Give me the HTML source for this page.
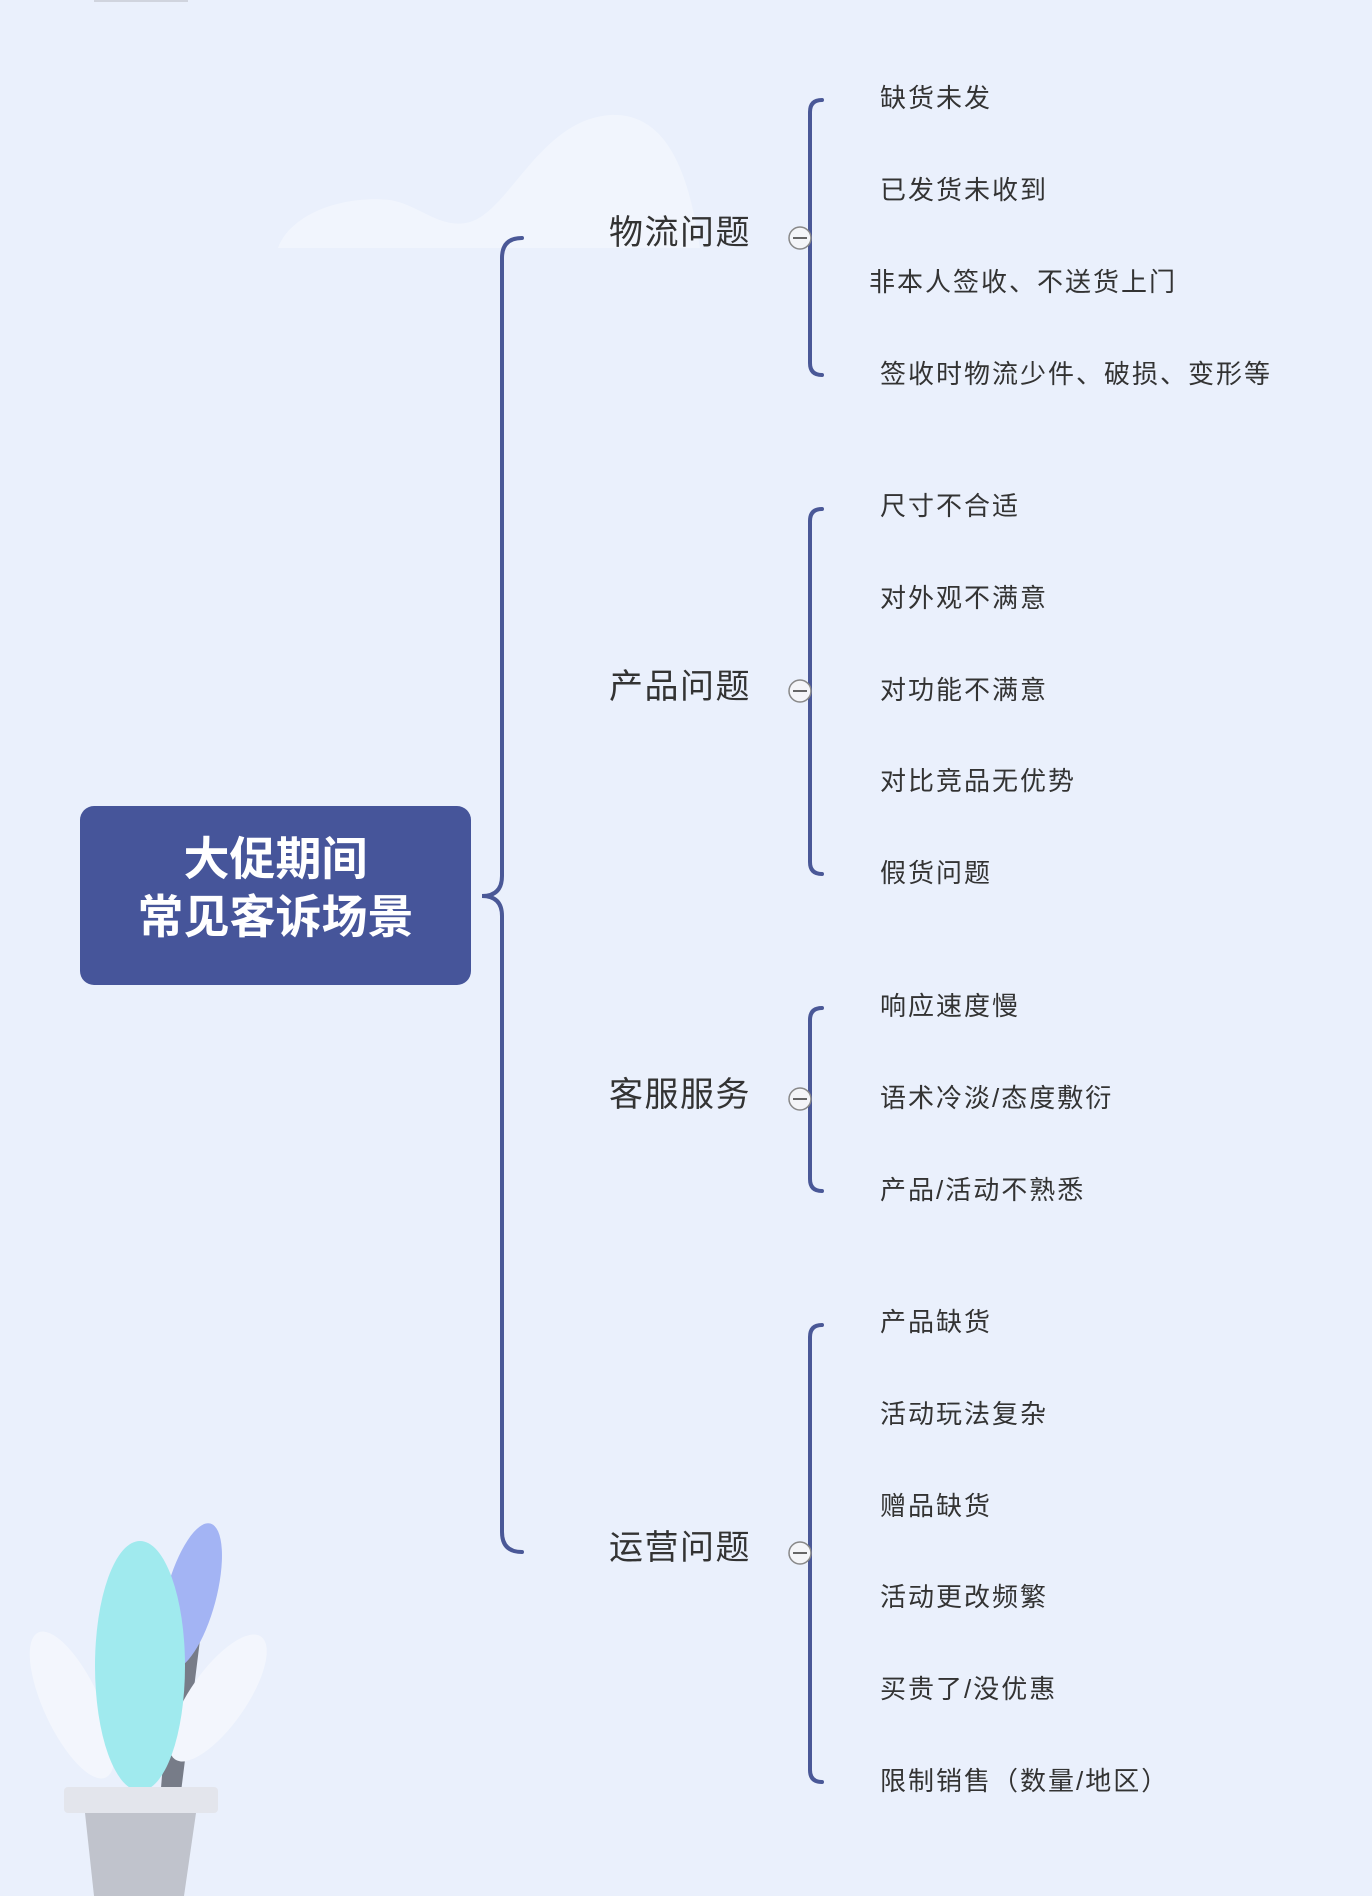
<!DOCTYPE html>
<html><head><meta charset="utf-8"><style>
body{margin:0;width:1372px;height:1896px;background:#eaf0fc;position:relative;overflow:hidden;font-family:"Liberation Sans","Noto Sans CJK SC",sans-serif;}
.t{position:absolute;color:#333;white-space:nowrap;line-height:1;}
.b{font-size:34px;left:609px;letter-spacing:1.5px;}
.l{font-size:26px;left:880px;letter-spacing:2px;}
#root{position:absolute;left:80px;top:806px;width:391px;height:179px;background:#46559a;border-radius:14px;color:#fff;font-weight:bold;font-size:46px;text-align:center;line-height:58px;box-sizing:border-box;padding-top:24px;}
</style></head><body>
<svg width="1372" height="1896" style="position:absolute;left:0;top:0">
<rect x="94" y="0" width="94" height="2" fill="#d0d4de"/>
<path d="M278 248 C290 215 340 195 390 200 C420 205 440 230 470 222 C510 210 540 120 610 115 C670 112 690 180 700 248 Z" fill="#f1f5fd"/>
<g fill="none" stroke="#4a5897" stroke-width="4" stroke-linecap="round">
<path d="M522 238 Q502 238 502 258 L502 876 Q502 896 482 896 Q502 896 502 916 L502 1532 Q502 1552 522 1552"/>
<path d="M822 100 Q810 100 810 112 L810 363 Q810 375 822 375"/>
<path d="M822 509 Q810 509 810 521 L810 862 Q810 874 822 874"/>
<path d="M822 1008 Q810 1008 810 1020 L810 1179 Q810 1191 822 1191"/>
<path d="M822 1325 Q810 1325 810 1337 L810 1770 Q810 1782 822 1782"/>
</g>
<g fill="#f4f5f8" stroke="#888" stroke-width="1.5">
<circle cx="800" cy="238" r="11"/><circle cx="800" cy="691" r="11"/><circle cx="800" cy="1099" r="11"/><circle cx="800" cy="1553" r="11"/>
</g>
<g stroke="#666" stroke-width="2"><line x1="793" y1="238" x2="807" y2="238"/><line x1="793" y1="691" x2="807" y2="691"/><line x1="793" y1="1099" x2="807" y2="1099"/><line x1="793" y1="1553" x2="807" y2="1553"/></g>
<ellipse cx="72" cy="1705" rx="28" ry="80" transform="rotate(-25 72 1705)" fill="#f3f6fd"/>
<path d="M180 1560 L205 1600 L180 1800 L160 1800 Z" fill="#777c88"/>
<ellipse cx="191" cy="1596" rx="25" ry="75" transform="rotate(15 191 1596)" fill="#a3b4f4"/>
<ellipse cx="218" cy="1698" rx="28" ry="75" transform="rotate(35 218 1698)" fill="#f3f6fd"/>
<ellipse cx="140" cy="1666" rx="45" ry="125" fill="#a0eaee"/>
<rect x="64" y="1787" width="154" height="26" rx="4" fill="#e3e5ec"/>
<path d="M85 1813 L196 1813 L184 1896 L94 1896 Z" fill="#c0c3cc"/>
</svg>
<div id="root">大促期间<br>常见客诉场景</div>
<div class="t b" style="top:216px">物流问题</div>
<div class="t b" style="top:670px">产品问题</div>
<div class="t b" style="top:1078px">客服服务</div>
<div class="t b" style="top:1531px">运营问题</div>
<div class="t l" style="top:85px">缺货未发</div>
<div class="t l" style="top:177px">已发货未收到</div>
<div class="t l" style="top:269px;left:869px">非本人签收、不送货上门</div>
<div class="t l" style="top:361px">签收时物流少件、破损、变形等</div>
<div class="t l" style="top:493px">尺寸不合适</div>
<div class="t l" style="top:585px">对外观不满意</div>
<div class="t l" style="top:677px">对功能不满意</div>
<div class="t l" style="top:768px">对比竞品无优势</div>
<div class="t l" style="top:860px">假货问题</div>
<div class="t l" style="top:993px">响应速度慢</div>
<div class="t l" style="top:1085px">语术冷淡/态度敷衍</div>
<div class="t l" style="top:1177px">产品/活动不熟悉</div>
<div class="t l" style="top:1309px">产品缺货</div>
<div class="t l" style="top:1401px">活动玩法复杂</div>
<div class="t l" style="top:1493px">赠品缺货</div>
<div class="t l" style="top:1584px">活动更改频繁</div>
<div class="t l" style="top:1676px">买贵了/没优惠</div>
<div class="t l" style="top:1768px">限制销售（数量/地区）</div>
</body></html>
